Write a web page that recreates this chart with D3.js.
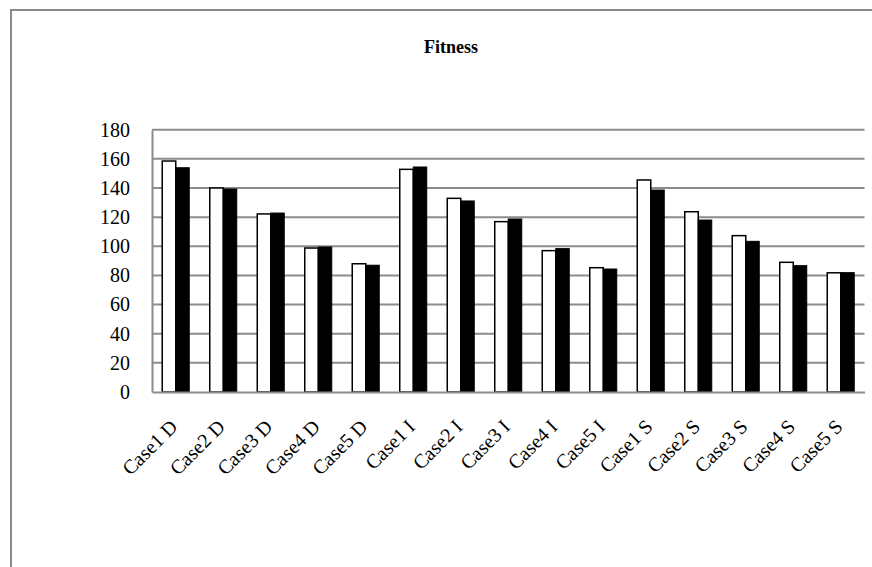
<!DOCTYPE html>
<html>
<head>
<meta charset="utf-8">
<script src="https://cdn.jsdelivr.net/npm/d3@7"></script>
<style>
  html, body { margin: 0; padding: 0; background: #fff; }
  svg { display: block; }
</style>
</head>
<body>
<svg id="chart" width="872" height="567"></svg>
<script>
// Fitness per case, two series (white and black bars)
const categories = ["Case1 D", "Case2 D", "Case3 D", "Case4 D", "Case5 D",
                    "Case1 I", "Case2 I", "Case3 I", "Case4 I", "Case5 I",
                    "Case1 S", "Case2 S", "Case3 S", "Case4 S", "Case5 S"];
const seriesA = [158.5, 140, 122.2, 98.8, 88, 152.8, 132.9, 116.9, 97, 85.3, 145.5, 123.7, 107.3, 89, 81.8];
const seriesB = [153.9, 139.3, 122.8, 99.5, 87, 154.4, 131.1, 118.7, 98.4, 84.4, 138.6, 118, 103.4, 86.7, 81.9];
const yTicks = [0, 20, 40, 60, 80, 100, 120, 140, 160, 180];
const title = "Fitness";

const svg = d3.select("#chart");
const font = "'Liberation Serif', 'Times New Roman', serif";

// outer frame
svg.append("rect")
  .attr("x", 11).attr("y", 10)
  .attr("width", 900).attr("height", 600)
  .attr("fill", "none")
  .attr("stroke", "#8a8a8a")
  .attr("stroke-width", 2);

const plot = { left: 152, right: 864.5, top: 129.7, bottom: 392 };

const x = d3.scaleBand()
  .domain(categories)
  .range([plot.left, plot.right])
  .paddingInner(0)
  .paddingOuter(0);

const y = d3.scaleLinear()
  .domain([0, 180])
  .range([plot.bottom, plot.top]);

// title
svg.append("text")
  .attr("x", 451).attr("y", 53)
  .attr("text-anchor", "middle")
  .attr("font-family", font)
  .attr("font-weight", "bold")
  .attr("font-size", 18)
  .text(title);

// horizontal gridlines
svg.append("g")
  .selectAll("line")
  .data(yTicks.filter(d => d > 0))
  .join("line")
  .attr("x1", plot.left).attr("x2", plot.right)
  .attr("y1", d => y(d)).attr("y2", d => y(d))
  .attr("stroke", "#8c8c8c")
  .attr("stroke-width", 2);

// y axis
const yAxis = d3.axisLeft(y).tickValues(yTicks).tickSize(0).tickPadding(22);
const gy = svg.append("g")
  .attr("transform", `translate(${plot.left},0)`)
  .call(yAxis);
gy.select(".domain").attr("stroke", "#8c8c8c").attr("stroke-width", 2);
gy.selectAll("text")
  .attr("font-family", font)
  .attr("font-size", 20)
  .attr("fill", "#000");

// bars
const pairW = 27;
const barW = pairW / 2;
const groups = svg.append("g")
  .selectAll("g")
  .data(categories)
  .join("g")
  .attr("transform", d => `translate(${x(d) + (x.bandwidth() - pairW) / 2},0)`);

groups.append("rect")
  .attr("x", 0)
  .attr("y", (d, i) => y(seriesA[i]))
  .attr("width", barW)
  .attr("height", (d, i) => y(0) - y(seriesA[i]))
  .attr("fill", "#fff")
  .attr("stroke", "#000")
  .attr("stroke-width", 1.5);

groups.append("rect")
  .attr("x", barW)
  .attr("y", (d, i) => y(seriesB[i]))
  .attr("width", barW)
  .attr("height", (d, i) => y(0) - y(seriesB[i]))
  .attr("fill", "#000")
  .attr("stroke", "#000")
  .attr("stroke-width", 1);

// x axis baseline and rotated labels
const xAxis = d3.axisBottom(x).tickSize(0).tickPadding(0);
const gx = svg.append("g")
  .attr("transform", `translate(0,${plot.bottom})`)
  .call(xAxis);
gx.select(".domain").attr("stroke", "#8c8c8c").attr("stroke-width", 2);
gx.selectAll(".tick text")
  .attr("font-family", font)
  .attr("font-size", 20)
  .attr("fill", "#000")
  .attr("text-anchor", "end")
  .attr("y", 0)
  .attr("dy", 0)
  .attr("transform", "translate(3,36) rotate(-45)");
</script>
</body>
</html>
